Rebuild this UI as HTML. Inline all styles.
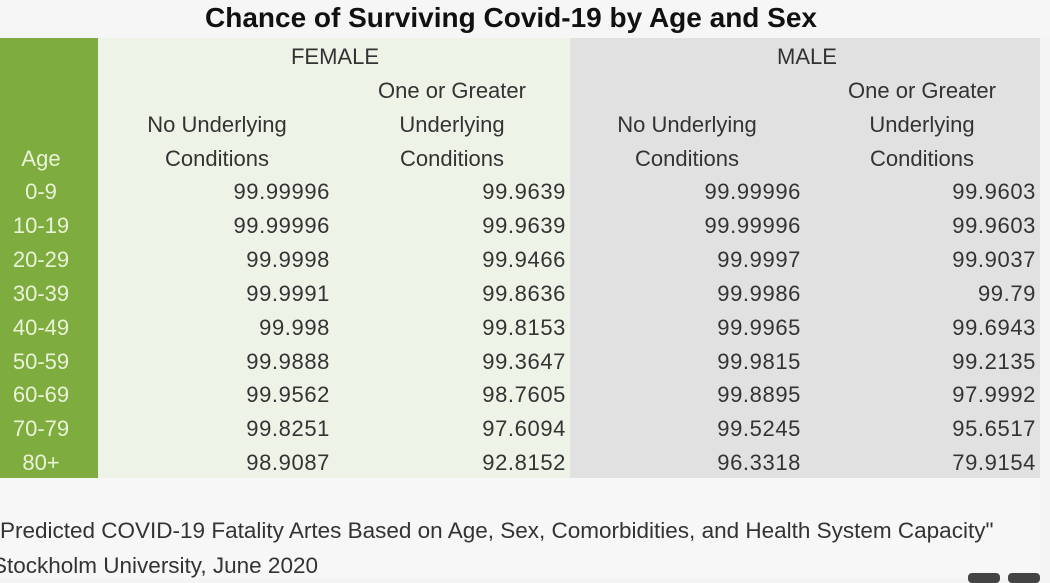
<!DOCTYPE html>
<html><head><style>
body{margin:0;width:1050px;height:578px;overflow:hidden;background:#f4f4f4;font-family:"Liberation Sans",sans-serif;color:#333;position:relative}
.a{position:absolute;white-space:nowrap}
.t{font-size:22px;line-height:26px}
.r{text-align:right}
.c{text-align:center}
</style></head><body>
<div class="a" style="left:0;top:0;width:1050px;height:38px;background:#f6f6f6"></div>
<div class="a c" style="left:0;width:1022px;top:2px;font-size:28px;font-weight:bold;color:#111">Chance of Surviving Covid-19 by Age and Sex</div>
<div class="a" style="left:0;top:38px;width:98px;height:440px;background:#7fac3e"></div>
<div class="a" style="left:98px;top:38px;width:472px;height:440px;background:#eef3e8"></div>
<div class="a" style="left:570px;top:38px;width:470px;height:440px;background:#e1e1e1"></div>
<div class="a" style="left:0;top:478px;width:1040px;height:100px;background:#f7f7f7"></div>
<div id="g"></div>
<script>
const H=[["FEMALE",335,57],["MALE",807,57],["One or Greater",452,91],["One or Greater",922,91],["No Underlying",217,125],["Underlying",452,125],["No Underlying",687,125],["Underlying",922,125],["Conditions",217,159],["Conditions",452,159],["Conditions",687,159],["Conditions",922,159]];
let s='';
for(const[t,x,y]of H)s+=`<div class="a t c" style="left:${x-150}px;width:300px;top:${y-13}px">${t}</div>`;
s+=`<div class="a t c" style="left:0;width:82px;top:146px;color:#e8f3d8">Age</div>`;
const R=[["0-9","99.99996","99.9639","99.99996","99.9603"],["10-19","99.99996","99.9639","99.99996","99.9603"],["20-29","99.9998","99.9466","99.9997","99.9037"],["30-39","99.9991","99.8636","99.9986","99.79"],["40-49","99.998","99.8153","99.9965","99.6943"],["50-59","99.9888","99.3647","99.9815","99.2135"],["60-69","99.9562","98.7605","99.8895","97.9992"],["70-79","99.8251","97.6094","99.5245","95.6517"],["80+","98.9087","92.8152","96.3318","79.9154"]];
const X=[330,566,801,1036];
R.forEach((r,i)=>{const y=192+i*33.9-13;
s+=`<div class="a t c" style="left:0;width:82px;top:${y}px;color:#e8f3d8">${r[0]}</div>`;
for(let j=0;j<4;j++)s+=`<div class="a t r" style="left:${X[j]-220}px;width:220px;top:${y}px;letter-spacing:0.6px">${r[j+1]}</div>`;});
s+=`<div class="a t" style="left:-8px;top:518px;font-size:22.5px">"Predicted COVID-19 Fatality Artes Based on Age, Sex, Comorbidities, and Health System Capacity"</div>`;
s+=`<div class="a t" style="left:-8px;top:553px;font-size:22.5px">Stockholm University, June 2020</div>`;
s+=`<div class="a" style="left:968px;top:573px;width:32px;height:10px;background:#444;border-radius:4px"></div><div class="a" style="left:1008px;top:573px;width:32px;height:10px;background:#444;border-radius:4px"></div>`;
document.getElementById('g').innerHTML=s;
</script>
</body></html>
